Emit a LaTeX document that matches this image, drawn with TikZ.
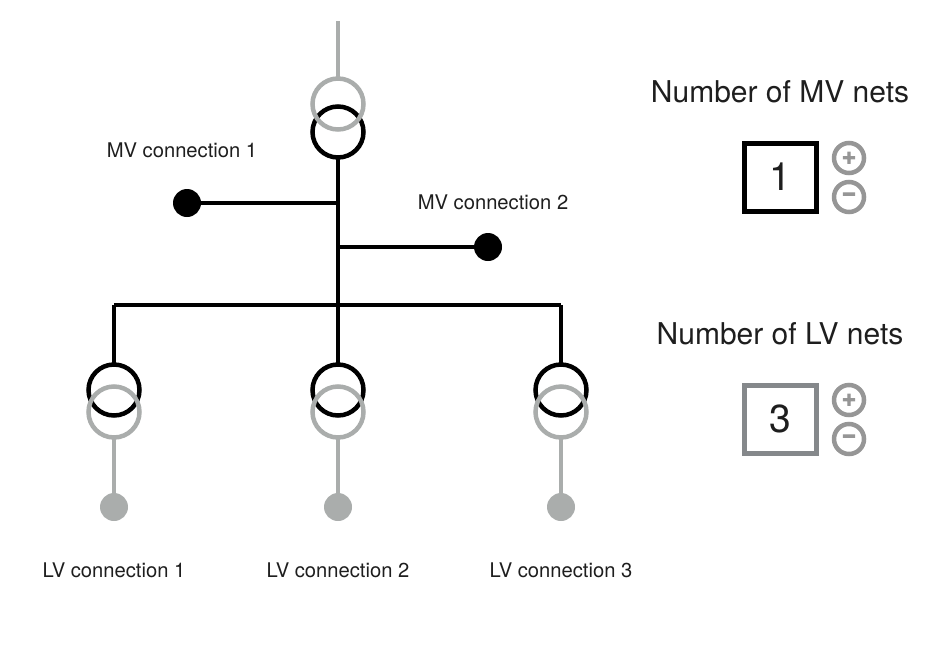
\documentclass[tikz,border=0pt]{standalone}
\usepackage{fontspec}
\setmainfont{TeX Gyre Heros}
\newfontfamily\btnfont[FakeBold=4]{TeX Gyre Heros Bold}
\usepackage{xcolor}
\usepackage{tikz}
\usetikzlibrary{positioning}
\definecolor{netblack}{RGB}{0,0,0}
\definecolor{netgray} {RGB}{170,173,172}
\definecolor{boxgray} {RGB}{133,136,139}
\definecolor{btngray} {RGB}{150,150,150}
\definecolor{txtdark} {RGB}{30,30,30}
\tikzset{
  wdg/.style={circle,draw=netblack,line width=4.5pt,minimum size=51pt,inner sep=0pt,outer sep=0pt},
  wdggray/.style={wdg,draw=netgray},
  dot/.style={circle,fill=netblack,minimum size=28pt,inner sep=0pt,outer sep=0pt},
  dotgray/.style={dot,fill=netgray},
  wire/.style={line width=4pt,color=netblack},
  wiregray/.style={wire,color=netgray},
  lbl/.style={font=\fontsize{20.2}{24}\selectfont,text=txtdark,inner sep=0pt},
  ttl/.style={font=\fontsize{30}{36}\selectfont,text=txtdark,inner sep=0pt},
  cntbox/.style={draw=netblack,line width=5pt,minimum width=72pt,minimum height=68pt,
                 font=\fontsize{39}{44}\selectfont,text=txtdark,inner sep=0pt},
  cntboxgray/.style={cntbox,draw=boxgray},
  btn/.style={circle,draw=btngray,line width=4.5pt,minimum size=30pt,inner sep=0pt,
              font=\fontsize{24}{24}\btnfont,text=btngray},
}
\begin{document}
\begin{tikzpicture}[x=1pt,y=1pt,on grid]
  \useasboundingbox (0,0) rectangle (941,-651);

  % MV side transformer
  \node[wdg](TM) at (338,-132) {};
  \node[wdggray,above=28pt of TM](TMH) {};
  \coordinate[above=83pt of TMH](FEED);
  \coordinate[below=71pt of TM](JM1);
  \coordinate[below=44pt of JM1](JM2);
  \coordinate[below=58pt of JM2](BUS2);
  \coordinate[left=224pt of BUS2](BUS1);
  \coordinate[right=223pt of BUS2](BUS3);
  \node[dot,left=137pt of JM1](MV1) {};
  \node[dot,right=136pt of JM2](MV2) {};

  % LV branches
  \node[wdg,below=59.5pt of BUS1](T1) {};
  \node[wdg,below=59.5pt of BUS2](T2) {};
  \node[wdg,below=59.5pt of BUS3](T3) {};
  \node[wdggray,below=22pt of T1](TL1) {};
  \node[wdggray,below=22pt of T2](TL2) {};
  \node[wdggray,below=22pt of T3](TL3) {};
  \node[dotgray,below=95pt of TL1](LV1) {};
  \node[dotgray,below=95pt of TL2](LV2) {};
  \node[dotgray,below=95pt of TL3](LV3) {};

  % labels
  \node[lbl,above=53pt of MV1,xshift=-5pt](LM1) {MV connection 1};
  \node[lbl,above=45pt of MV2,xshift=5pt](LM2) {MV connection 2};
  \node[lbl,below=63pt of LV1](LL1) {LV connection 1};
  \node[lbl,below=63pt of LV2](LL2) {LV connection 2};
  \node[lbl,below=63pt of LV3](LL3) {LV connection 3};

  % wires
  \draw[wiregray](FEED) -- (TMH.north);
  \draw[wire](TM.south) -- (BUS2);
  \draw[wire](JM1) -- (MV1);
  \draw[wire](JM2) -- (MV2);
  \draw[wire](BUS1) -- (BUS3);
  \draw[wire](BUS1) -- (T1.north);
  \draw[wire](BUS2) -- (T2.north);
  \draw[wire](BUS3) -- (T3.north);
  \draw[wiregray](TL1.south) -- (LV1);
  \draw[wiregray](TL2.south) -- (LV2);
  \draw[wiregray](TL3.south) -- (LV3);

  % counters
  \node[ttl](TTM) at (780,-92) {Number of MV nets};
  \node[cntbox,below=85pt of TTM](CM) {1};
  \node[btn,right=69pt of CM,yshift=19pt](BMP) {+};
  \node[btn,below=39pt of BMP](BMM) {\raisebox{1pt}{−}};
  \node[ttl,below=242pt of TTM](TTL) {Number of LV nets};
  \node[cntboxgray,below=85pt of TTL](CL) {3};
  \node[btn,right=69pt of CL,yshift=19pt](BLP) {+};
  \node[btn,below=39pt of BLP](BLM) {\raisebox{1pt}{−}};
\end{tikzpicture}
\end{document}
